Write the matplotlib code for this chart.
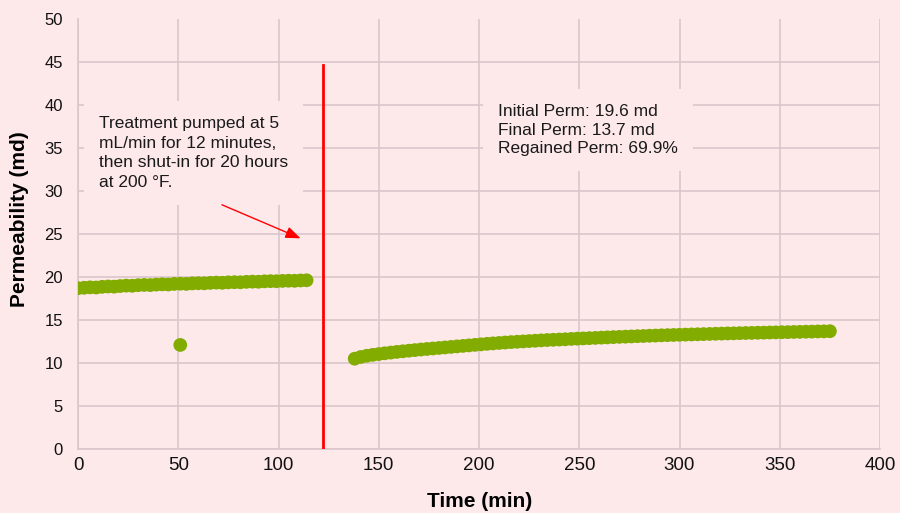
import matplotlib
matplotlib.use("Agg")
import matplotlib.pyplot as plt

plt.rcParams['font.family'] = ['Liberation Sans', 'DejaVu Sans']

# Pre-treatment permeability (min, md)
time_pre = [0, 3, 6, 9, 12, 15, 18, 21, 24, 27, 30, 33, 36, 39, 42, 45, 48, 51, 54,
            57, 60, 63, 66, 69, 72, 75, 78, 81, 84, 87, 90, 93, 96, 99, 102, 105,
            108, 111, 114]
perm_pre = [18.70, 18.75, 18.80, 18.78, 18.86, 18.90, 18.88, 18.95, 19.00, 18.98,
            19.05, 19.08, 19.06, 19.12, 19.15, 19.13, 19.20, 19.22, 19.20, 19.26,
            19.28, 19.27, 19.32, 19.35, 19.33, 19.38, 19.40, 19.39, 19.44, 19.46,
            19.45, 19.50, 19.52, 19.51, 19.55, 19.57, 19.56, 19.60, 19.62]

# Isolated low reading during the initial flow
time_outlier = [51]
perm_outlier = [12.1]

# Post-treatment permeability (min, md)
time_post = [138, 141, 144, 147, 150, 153, 156, 159, 162, 165, 168, 171, 174, 177,
             180, 183, 186, 189, 192, 195, 198, 201, 204, 207, 210, 213, 216, 219,
             222, 225, 228, 231, 234, 237, 240, 243, 246, 249, 252, 255, 258, 261,
             264, 267, 270, 273, 276, 279, 282, 285, 288, 291, 294, 297, 300, 303,
             306, 309, 312, 315, 318, 321, 324, 327, 330, 333, 336, 339, 342, 345,
             348, 351, 354, 357, 360, 363, 366, 369, 372, 375]
perm_post = [10.50, 10.70, 10.84, 10.95, 11.04, 11.13, 11.21, 11.29, 11.36, 11.43,
             11.50, 11.57, 11.63, 11.69, 11.75, 11.81, 11.87, 11.93, 11.99, 12.05,
             12.11, 12.17, 12.23, 12.28, 12.33, 12.38, 12.43, 12.47, 12.51, 12.55,
             12.59, 12.63, 12.67, 12.70, 12.73, 12.76, 12.80, 12.83, 12.86, 12.89,
             12.92, 12.95, 12.98, 13.01, 13.04, 13.06, 13.09, 13.12, 13.14, 13.17,
             13.19, 13.22, 13.24, 13.26, 13.28, 13.30, 13.32, 13.34, 13.36, 13.38,
             13.40, 13.42, 13.44, 13.45, 13.47, 13.49, 13.50, 13.52, 13.53, 13.55,
             13.56, 13.58, 13.59, 13.61, 13.62, 13.64, 13.65, 13.67, 13.68, 13.70]

# Treatment marker
treatment_time = 122
treatment_top = 44.7

x_ticks = [0, 50, 100, 150, 200, 250, 300, 350, 400]
y_ticks = [0, 5, 10, 15, 20, 25, 30, 35, 40, 45, 50]

treatment_note = ("Treatment pumped at 5\nmL/min for 12 minutes,\n"
                  "then shut-in for 20 hours\nat 200 °F.")
perm_note = "Initial Perm: 19.6 md\nFinal Perm: 13.7 md\nRegained Perm: 69.9%"

bg = '#fde8ea'
grid_c = '#dbc7cb'
green = '#82ad00'

fig = plt.figure(figsize=(9, 5.13), dpi=100, facecolor=bg)
ax = fig.add_axes([0.0867, 0.1248, 0.8911, 0.838], facecolor=bg)

ax.set_xlim(0, 400)
ax.set_ylim(0, 50)
ax.set_xticks(x_ticks)
ax.set_yticks(y_ticks)
ax.grid(True, color=grid_c, lw=1.2, zorder=0)
ax.set_axisbelow(True)
ax.yaxis.get_gridlines()[-1].set_visible(False)

for side in ('top', 'right'):
    ax.spines[side].set_visible(False)
for side in ('left', 'bottom'):
    ax.spines[side].set_color(grid_c)
    ax.spines[side].set_linewidth(1.2)

ax.tick_params(axis='both', length=0, colors='#111111')
ax.tick_params(axis='x', pad=6, labelsize=13.5)
ax.tick_params(axis='y', pad=11, labelsize=12)

ax.set_xlabel('Time (min)', fontsize=15, fontweight='bold')
ax.set_ylabel('Permeability (md)', fontsize=15, fontweight='bold')
ax.xaxis.set_label_coords(0.501, -0.101)
ax.yaxis.set_label_coords(-0.061, 0.535)

ms = 98
ax.scatter(time_pre, perm_pre, s=ms, color=green, edgecolors='none', zorder=3)
ax.scatter(time_outlier, perm_outlier, s=ms, color=green, edgecolors='none', zorder=3)
ax.scatter(time_post, perm_post, s=ms, color=green, edgecolors='none', zorder=3)

ax.plot([treatment_time, treatment_time], [0, treatment_top], color='#ff0000',
        lw=2, zorder=4)

ax.text(10.5, 38.7, treatment_note, fontsize=12.5, va='top', ha='left',
        color='#1a1a1a', linespacing=1.38, zorder=2,
        bbox=dict(boxstyle='square,pad=0.85', fc=bg, ec='none'))
ax.text(209.5, 40.1, perm_note, fontsize=12.5, va='top', ha='left',
        color='#1a1a1a', linespacing=1.3, zorder=2,
        bbox=dict(boxstyle='square,pad=0.85', fc=bg, ec='none'))

ax.annotate('', xy=(111, 24.5), xytext=(71.8, 28.4),
            arrowprops=dict(arrowstyle='-|>,head_length=0.9,head_width=0.35',
                            color='#ff0000', lw=1.0, shrinkA=0, shrinkB=0),
            zorder=4)

fig.savefig('out.png', dpi=100, facecolor=bg)
